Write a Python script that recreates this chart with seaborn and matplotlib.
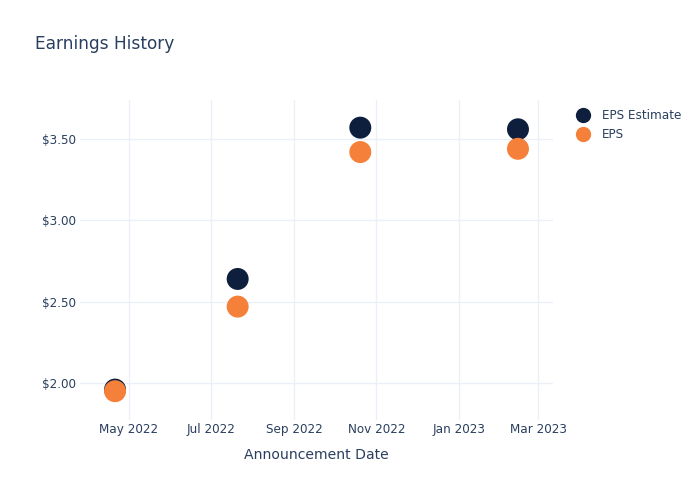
import matplotlib
matplotlib.use("Agg")
import matplotlib.pyplot as plt
import matplotlib.dates as mdates
import matplotlib.ticker as mticker
from matplotlib.lines import Line2D
import seaborn as sns
import pandas as pd

dates = ["2022-04-21", "2022-07-21", "2022-10-20", "2023-02-14"]
eps_estimate = [1.96, 2.64, 3.57, 3.56]
eps_actual = [1.95, 2.47, 3.42, 3.44]
series_names = ["EPS Estimate", "EPS"]
colors = ["#0d1f3d", "#f5803a"]

df = pd.DataFrame({
    "date": pd.to_datetime(dates * 2),
    "value": eps_estimate + eps_actual,
    "series": [series_names[0]] * len(dates) + [series_names[1]] * len(dates),
})

sns.set_theme(style="white")
plt.rcParams["font.family"] = ["DejaVu Sans"]
text_color = "#2a3f5f"
grid_color = "#ebf0f8"

fig = plt.figure(figsize=(7, 5), dpi=100)
ax = fig.add_axes([80 / 700, 80 / 500, 473 / 700, 320 / 500])

sns.scatterplot(data=df, x="date", y="value", hue="series", hue_order=series_names,
                palette=colors, s=250, edgecolor="none", ax=ax, legend=False, zorder=3)

ax.set_xlim(pd.Timestamp("2022-03-26"), pd.Timestamp("2023-03-12"))
ax.set_ylim(1.773, 3.74)
ax.yaxis.set_major_locator(mticker.MultipleLocator(0.5))
ax.yaxis.set_major_formatter(mticker.FuncFormatter(lambda v, p: f"${v:.2f}"))
ax.xaxis.set_major_locator(mdates.MonthLocator(bymonth=[1, 3, 5, 7, 9, 11]))
ax.xaxis.set_major_formatter(mdates.DateFormatter("%b %Y"))

ax.grid(True, color=grid_color, linewidth=1)
ax.set_axisbelow(True)
for sp in ax.spines.values():
    sp.set_visible(False)
ax.tick_params(axis="both", length=0, labelsize=8.64, colors=text_color)
ax.tick_params(axis="x", pad=2)
ax.tick_params(axis="y", pad=3)

ax.set_xlabel("Announcement Date", fontsize=10.08, color=text_color, labelpad=9)
ax.set_ylabel("")
fig.text(35 / 700, 1 - 44 / 500, "Earnings History", fontsize=12.24, color=text_color,
         va="center", ha="left")

handles = [Line2D([0], [0], marker="o", linestyle="none", markersize=11,
                  markerfacecolor=c, markeredgecolor="none") for c in colors]
leg = fig.legend(handles, series_names, loc="upper left",
                 bbox_to_anchor=(571 / 700, 1 - 104 / 500), frameon=False,
                 fontsize=8.64, labelcolor=text_color, handletextpad=1.0,
                 labelspacing=0.5, borderaxespad=0, handlelength=1.2)

fig.savefig("out.png", dpi=100)
